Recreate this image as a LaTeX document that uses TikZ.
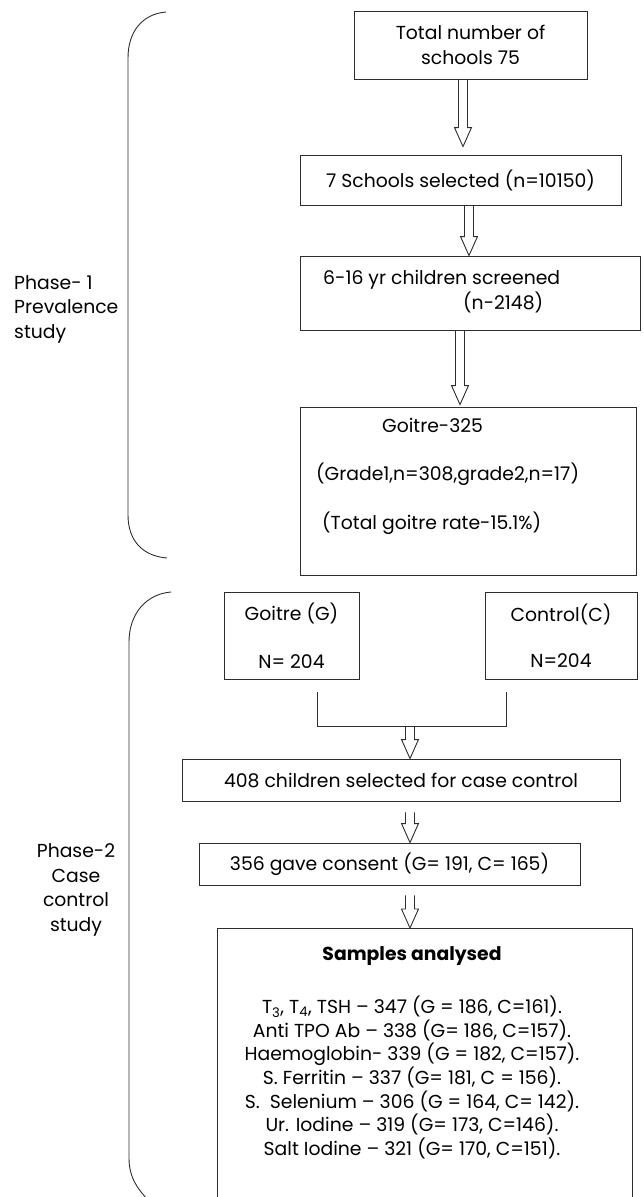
\documentclass[tikz,border=0pt]{standalone}
\usepackage{fontspec}
\setmainfont{Poppins}
\usetikzlibrary{calc}
\definecolor{linegray}{RGB}{45, 45, 45}
\tikzset{
  box/.style={draw=linegray, line width=0.9pt, inner sep=0pt, align=center, font=\fontsize{18.8}{24.5}\selectfont},
  txt/.style={inner sep=0pt, font=\fontsize{18.8}{24.5}\selectfont},
  brace/.style={draw=linegray, line width=0.9pt},
  hollow/.style={draw=linegray, line width=0.9pt,
    to path={let \p1=(\tikztostart), \p2=(\tikztotarget) in
      (\x1-4.5pt,\y1) -- (\x1-4.5pt,\y2+19pt) -- (\x1-8.5pt,\y2+19pt) -- (\x1,\y2)
      -- (\x1+8.5pt,\y2+19pt) -- (\x1+4.5pt,\y2+19pt) -- (\x1+4.5pt,\y1)}},
}
\begin{document}
\begin{tikzpicture}[x=1pt, y=-1pt]
  \useasboundingbox (0,0) rectangle (643,1197);

  % Phase 1
  \draw[brace] (166,12) .. controls (142,14) and (128,32) .. (128,58) -- (128,515)
    .. controls (128,540) and (142,556) .. (167,558);
  \node[txt, anchor=west, align=left] (phaseone) at (14,309) {Phase- 1\\Prevalence\\study};

  \node[box, minimum width=233, minimum height=68] (total) at (470.5,45) {Total number of\\schools 75};
  \node[box, minimum width=321, minimum height=50] (seven) at (460.5,180) {7 Schools selected (n=10150)};
  \node[box, minimum width=340, minimum height=74] (screened) at (470,293) {};
  \node[txt, anchor=west, align=left] (screenedtext) at (323,291.5) {6-16 yr children screened\\\hspace*{140pt}(n-2148)};
  \node[box, minimum width=336, minimum height=168] (goitre) at (468,491) {};
  \node[txt, anchor=west, align=left] (goitretext) at (316,476)
    {\hspace*{66pt}Goitre-325\\[24pt](Grade1,n=308,grade2,n=17)\\[24pt]\hspace*{6pt}(Total goitre rate-15.1\%)};

  \draw[hollow] ($(total.south)+(-7.5,0)$) to ($(seven.north)+(0,-8)$);
  \draw[hollow] ($(seven.south)+(8.5,0)$) to (screened.north);
  \draw[hollow] ($(screened.south)+(-10,0)$) to ($(goitre.north)+(0,-2)$);

  % Phase 2
  \draw[brace] (171,592) .. controls (146,594) and (129,614) .. (129,642) -- (129,1158)
    .. controls (129,1178) and (138,1190) .. (152,1204);
  \node[txt, align=center] (phasetwo) at (76,890) {Phase-2\\Case\\control\\study};

  \node[box, minimum width=135, minimum height=87] (goitreG) at (291.5,635.5) {Goitre (G)\\[23pt]N= 204};
  \node[box, minimum width=152, minimum height=87] (control) at (561,635.5) {Control(C)\\[21pt]N=204};
  \node[box, minimum width=438, minimum height=42] (caseall) at (401,780) {408 children selected for case control};
  \node[box, minimum width=381, minimum height=42] (consent) at (389.5,864) {356 gave consent (G= 191, C= 165)};
  \node[box, minimum width=415, minimum height=290, anchor=north] (samples) at (424.5,928) {};
  \node[txt, align=center, font=\fontsize{18.8}{23.7}\selectfont] (samplestext) at (412,1053) {\textbf{Samples analysed}\\[29pt]
    T\textsubscript{3}, T\textsubscript{4}, TSH – 347 (G = 186, C=161).\\
    Anti TPO Ab – 338 (G= 186, C=157).\\
    Haemoglobin- 339 (G = 182, C=157).\\
    S. Ferritin – 337 (G= 181, C = 156).\\
    S.\ \ Selenium – 306 (G = 164, C= 142).\\
    Ur. Iodine – 319 (G= 173, C=146).\\
    Salt Iodine – 321 (G= 170, C=151).};

  \coordinate (merge) at (410,726);
  \draw[brace] ($(goitreG.south)+(25.5,13)$) |- (merge) -| ($(control.south)+(-55,13)$);
  \draw[hollow] (merge) to (caseall.north);
  \draw[hollow] ($(caseall.south)+(9,11)$) to (consent.north);
  \draw[hollow] ($(consent.south)+(20.5,10)$) to (samples.north);
\end{tikzpicture}
\end{document}
